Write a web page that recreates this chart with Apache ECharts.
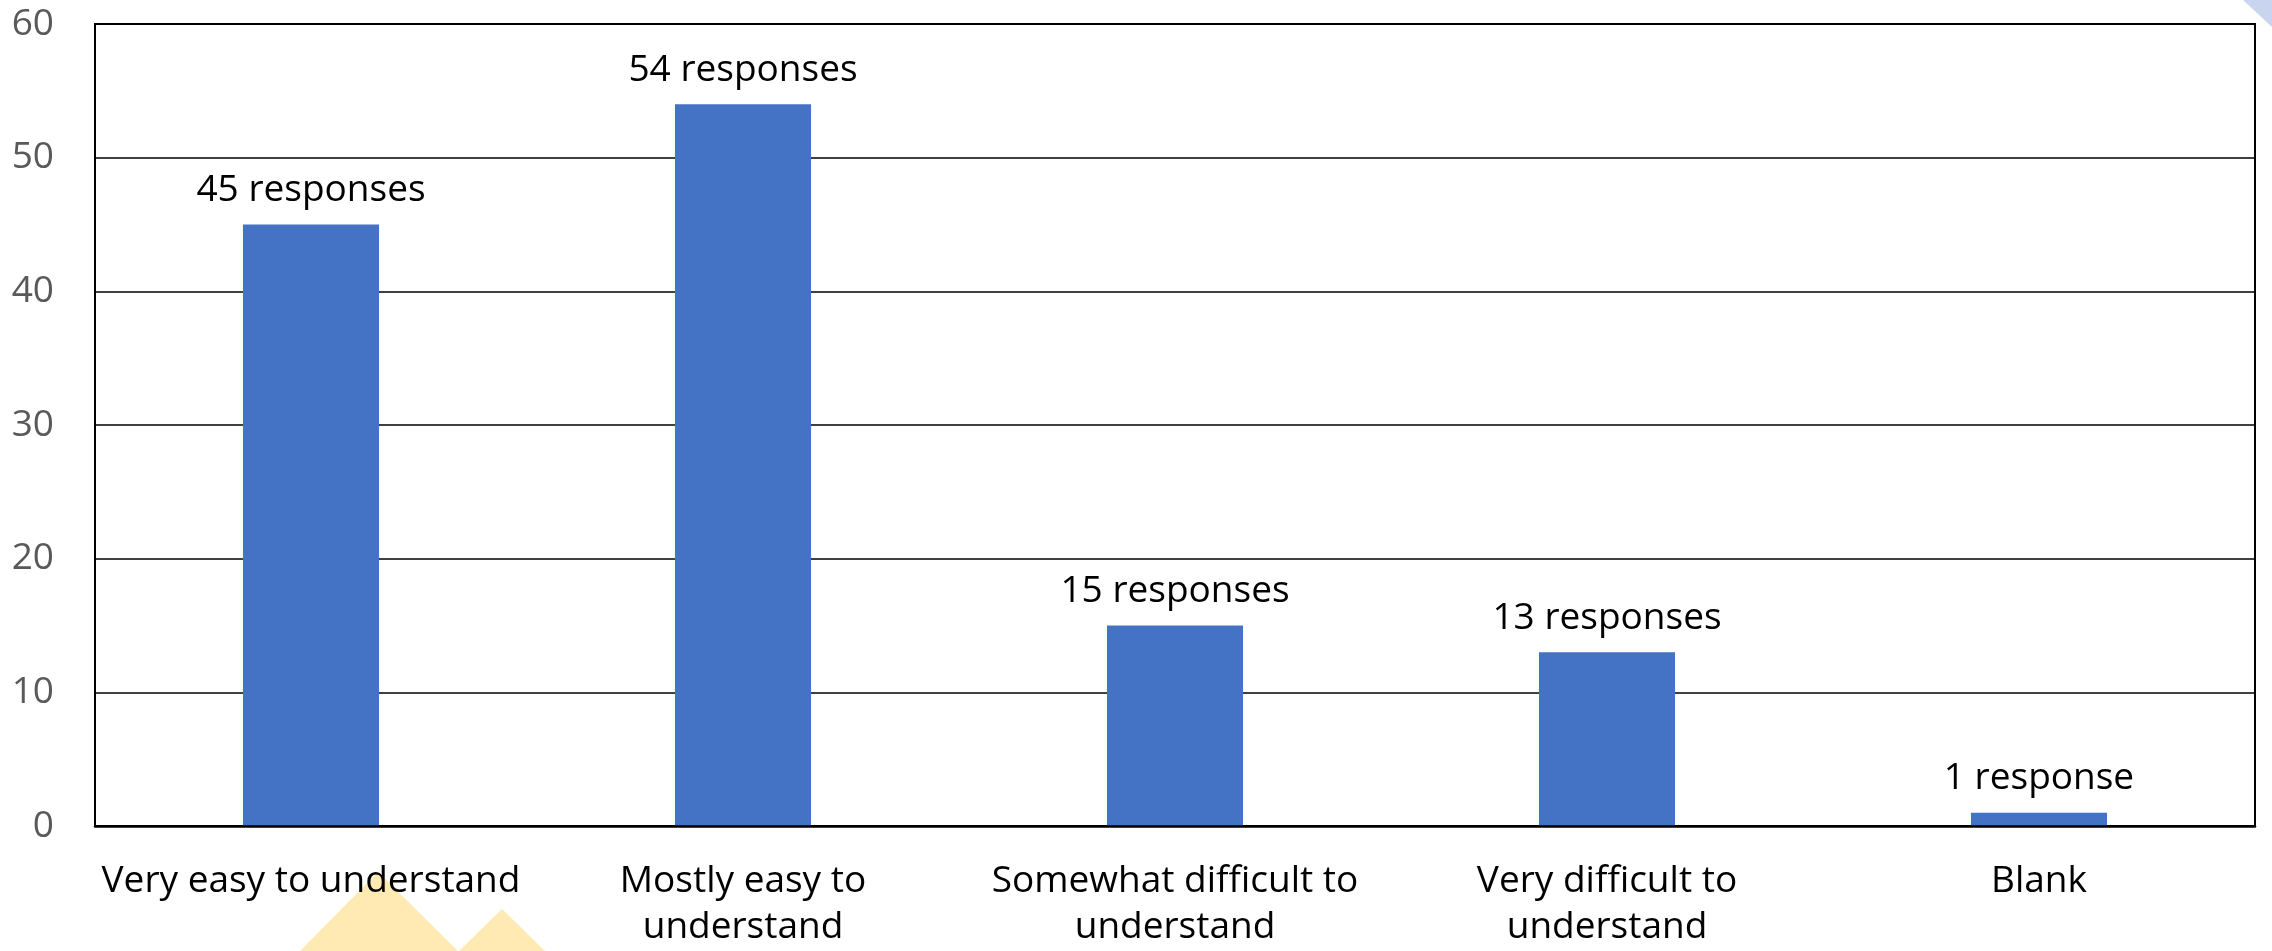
<!DOCTYPE html>
<html>
<head>
<meta charset="utf-8">
<style>
  html, body { margin: 0; padding: 0; background: #fff; }
  #chart { width: 2272px; height: 951px; }
</style>
<script src="https://cdn.jsdelivr.net/npm/echarts@6/dist/echarts.min.js"></script>
</head>
<body>
<div id="chart"></div>
<script>
// Survey: how easy the material was to understand
const categories = [
  'Very easy to understand',
  'Mostly easy to\nunderstand',
  'Somewhat difficult to\nunderstand',
  'Very difficult to\nunderstand',
  'Blank'
];
const responses = [45, 54, 15, 13, 1];
const yTicks = { min: 0, max: 60, interval: 10 };

const FONT = '"Open Sans", "Noto Sans", sans-serif';

const chart = echarts.init(document.getElementById('chart'), null, { renderer: 'canvas' });

chart.setOption({
  animation: false,
  backgroundColor: '#ffffff',
  grid: {
    left: 95, right: 17, top: 24, bottom: 125,
    show: true, borderColor: '#000000', borderWidth: 2, backgroundColor: 'transparent'
  },
  xAxis: {
    type: 'category',
    data: categories,
    z: 10,
    axisLine: { show: true, lineStyle: { color: '#000000', width: 2.5 } },
    axisTick: { show: false },
    axisLabel: {
      interval: 0,
      margin: 32,
      color: '#000000',
      fontFamily: FONT,
      fontSize: 37,
      lineHeight: 46,
      align: 'center'
    }
  },
  yAxis: {
    type: 'value',
    min: yTicks.min,
    max: yTicks.max,
    interval: yTicks.interval,
    axisLine: { show: false },
    axisTick: { show: false },
    splitLine: { show: true, lineStyle: { color: '#000000', width: 1.5 } },
    axisLabel: {
      margin: 41,
      color: '#595959',
      fontFamily: FONT,
      fontSize: 37
    }
  },
  series: [{
    type: 'bar',
    data: responses,
    barWidth: '31.5%',
    itemStyle: { color: '#4472c4' },
    label: {
      show: true,
      position: 'top',
      distance: 12,
      color: '#000000',
      fontFamily: FONT,
      fontSize: 37,
      lineHeight: 44,
      formatter: p => p.value + (p.value === 1 ? ' response' : ' responses')
    }
  }],
  graphic: [
    {
      type: 'polygon', z: -5,
      shape: { points: [[300, 951], [378, 872], [458, 951]] },
      style: { fill: '#feeab2' }
    },
    {
      type: 'polygon', z: -5,
      shape: { points: [[459, 951], [502, 909], [545, 951]] },
      style: { fill: '#feeab2' }
    },
    {
      type: 'polygon', z: -5,
      shape: { points: [[2243, 0], [2272, 0], [2272, 27]] },
      style: { fill: '#c9d5ef' }
    }
  ]
});
</script>
</body>
</html>
